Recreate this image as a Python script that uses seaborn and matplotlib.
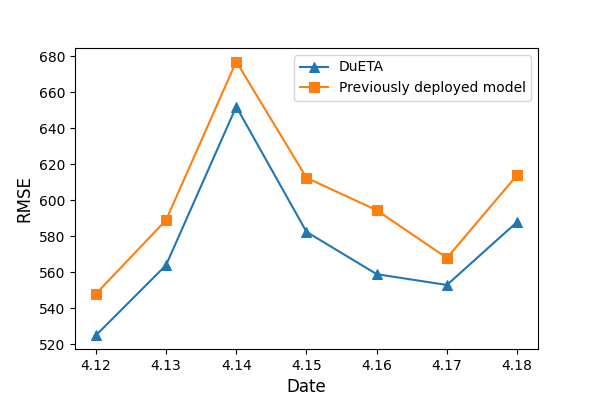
import matplotlib
matplotlib.use('Agg')
import matplotlib.pyplot as plt
import seaborn as sns
import pandas as pd

# Data
dates = ['4.12', '4.13', '4.14', '4.15', '4.16', '4.17', '4.18']
dueta_rmse = [525, 564, 652, 582.5, 559, 553, 588]
prev_rmse = [548, 589, 677, 612.5, 594.5, 568, 614]

df = pd.DataFrame({'Date': dates, 'DuETA': dueta_rmse, 'Previously deployed model': prev_rmse})

fig, ax = plt.subplots(figsize=(5.98, 3.99), dpi=100)

sns.lineplot(data=df, x='Date', y='DuETA', marker='^', markersize=7, markeredgecolor='#1f77b4',
             color='#1f77b4', label='DuETA', sort=False, ax=ax)
sns.lineplot(data=df, x='Date', y='Previously deployed model', marker='s', markersize=7,
             markeredgecolor='#ff7f0e', color='#ff7f0e', label='Previously deployed model',
             sort=False, ax=ax)

ax.set_xlabel('Date', fontsize=12)
ax.set_ylabel('RMSE', fontsize=12)
ax.legend(loc='upper right', fontsize=10)

plt.subplots_adjust(left=0.125, right=0.9, top=0.88, bottom=0.125)
plt.savefig('out.png', dpi=100)
